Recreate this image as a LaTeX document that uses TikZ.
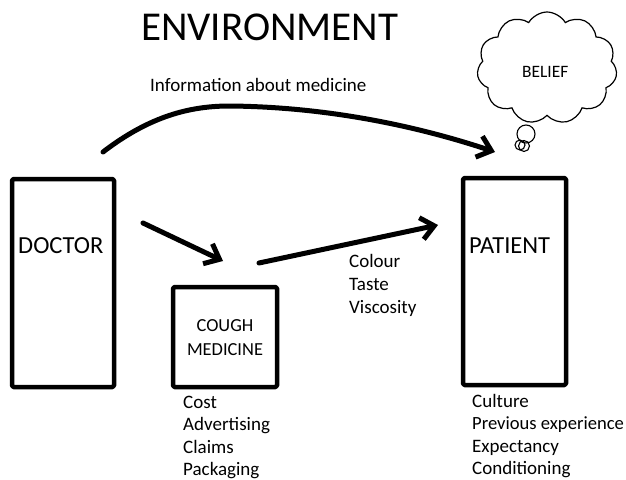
\documentclass[tikz,border=0pt]{standalone}
\usepackage{fontspec}
\setmainfont{Carlito}
\usetikzlibrary{arrows.meta,shapes.symbols}
\begin{document}
\begin{tikzpicture}[x=1pt,y=-1pt,
  box/.style={draw,line width=4.5pt,rounded corners=1.5pt,line join=round},
  arr/.style={line width=5pt,line cap=round,-{Straight Barb[length=13pt,width=22pt,line width=5pt]}},
  lbl/.style={anchor=base west,inner sep=0pt,font=\fontsize{19}{22.5}\selectfont},
  big/.style={anchor=base west,inner sep=0pt,font=\fontsize{24.5}{28}\selectfont}]
\useasboundingbox (0,0) rectangle (626,479);
\fill[white] (0,0) rectangle (626,479);
% boxes
\node[box,minimum width=102pt,minimum height=208pt,inner sep=0pt] (doctor) at (63,283) {};
\node[box,minimum width=104pt,minimum height=100pt,inner sep=0pt] (med) at (225,337) {};
\node[box,minimum width=103pt,minimum height=207pt,inner sep=0pt] (patient) at (514.5,281.5) {};
% titles
\node[anchor=base west,inner sep=0pt,font=\fontsize{41}{48}\selectfont] (env) at (141,40) {ENVIRONMENT};
\node[big] (doctxt) at (18,253) {DOCTOR};
\node[big] (pattxt) at (469,253) {PATIENT};
\node[anchor=base,inner sep=0pt,font=\fontsize{18.4}{22}\selectfont] (cough) at (225,331) {COUGH};
\node[anchor=base,inner sep=0pt,font=\fontsize{18.4}{22}\selectfont] (medicine) at (225,355) {MEDICINE};
\node[lbl] (info) at (150,91) {Information about medicine};
% lists
\node[lbl] (m1) at (183,408) {Cost};
\node[lbl] (m2) at (183,430.5) {Advertising};
\node[lbl] (m3) at (183,453) {Claims};
\node[lbl] (m4) at (183,475.5) {Packaging};
\node[lbl] (c1) at (349,267) {Colour};
\node[lbl] (c2) at (349,290) {Taste};
\node[lbl] (c3) at (349,313) {Viscosity};
\node[lbl] (p1) at (472,407) {Culture};
\node[lbl,font=\fontsize{18.6}{22.5}\selectfont] (p2) at (472,429.5) {Previous experience};
\node[lbl] (p3) at (472,452) {Expectancy};
\node[lbl] (p4) at (472,474.5) {Conditioning};
% cloud
\node[cloud,draw,line width=1.2pt,cloud puffs=11,cloud puff arc=120,aspect=1.25,minimum width=140pt,minimum height=112pt,inner sep=0pt] (belief) at (547,68) {};
\node[anchor=base west,inner sep=0pt,font=\fontsize{17.4}{20}\selectfont] (belieftxt) at (522,77) {BELIEF};
\draw[line width=1.1pt] (526,134) circle (9pt);
\draw[line width=1.1pt] (520,145) circle (5pt);
\draw[line width=1.1pt] (524,146) circle (5.5pt);
% arrows
\coordinate (a1s) at (103,152);
\coordinate (a1e) at (495,152);
\coordinate (a2s) at (143,223);
\coordinate (a2e) at (223,261);
\coordinate (a3s) at (259,263);
\coordinate (a3e) at (438,225);
\draw[arr] (a1s) .. controls (150,116) and (190,106) .. (230,106) .. controls (330,107) and (420,127) .. (a1e);
\draw[arr] (a2s) -- (a2e);
\draw[arr] (a3s) -- (a3e);
\end{tikzpicture}
\end{document}
